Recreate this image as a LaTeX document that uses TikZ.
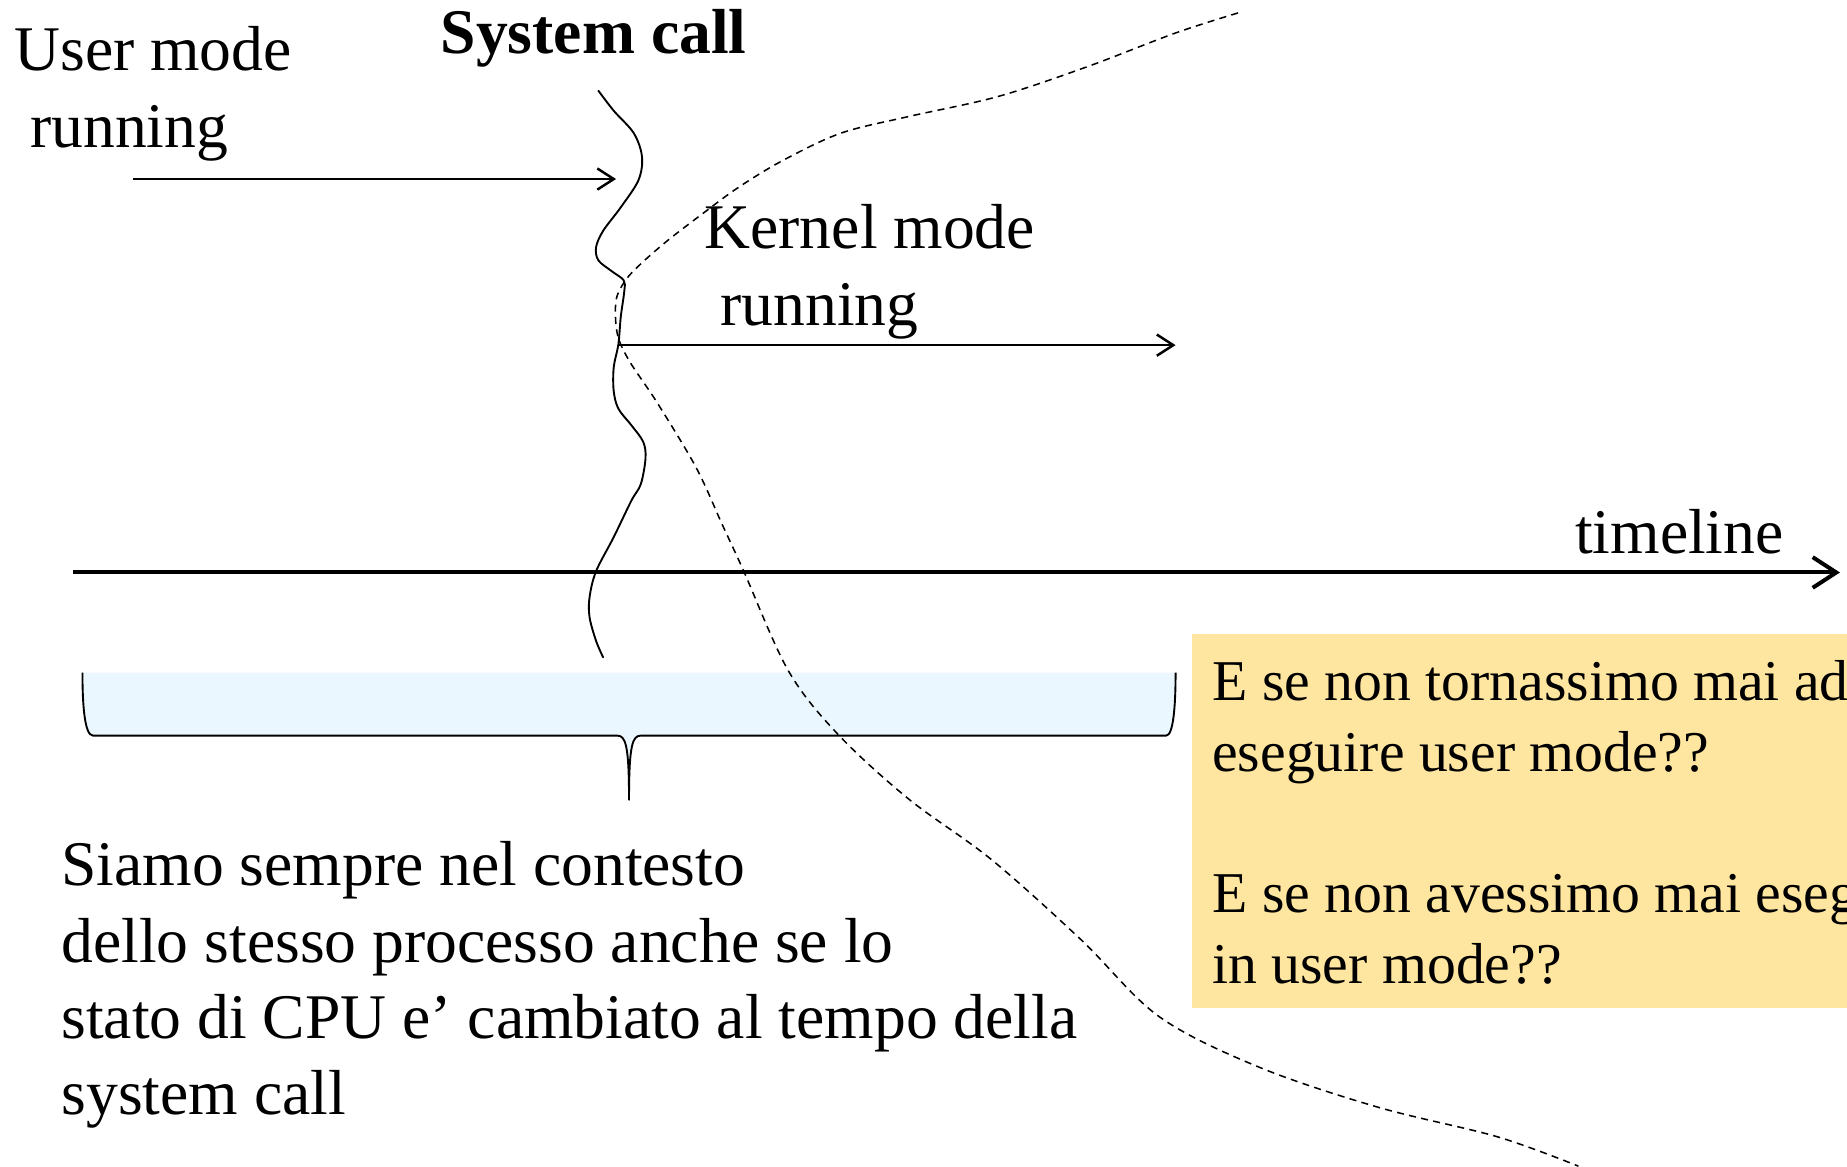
\documentclass[tikz,border=0pt]{standalone}
\usepackage{fontspec}
\setmainfont{Liberation Serif}
\usetikzlibrary{arrows.meta}
\definecolor{bracefill}{RGB}{234,247,254}
\definecolor{notefill}{RGB}{255,230,160}
\begin{document}
\begin{tikzpicture}[x=1pt,y=-1pt,
  big/.style={inner sep=0pt, anchor=base west, font=\fontsize{54}{65}\selectfont},
  small/.style={inner sep=0pt, anchor=base west, font=\fontsize{49}{59}\selectfont},
  thinarrow/.style={line width=2.1pt, -{Straight Barb[length=14pt,width=18pt]}},
  timearrow/.style={line width=3.4pt, -{Straight Barb[length=20pt,width=26pt]}},
  wave/.style={line width=1.6pt, line cap=round, line join=round},
  dashline/.style={line width=1.3pt, dash pattern=on 6pt off 4.5pt},
  bracestroke/.style={line width=1.6pt, line join=round}]
\clip (0,0) rectangle (1568,990);
\useasboundingbox (0,0) rectangle (1568,990);

% note box
\fill[notefill] (1012,538) rectangle (1600,856);

% brace with fill
\fill[bracefill] (70,571) .. controls (70,600) and (72,624.5) .. (79,624.5) -- (524,624.5)
  .. controls (531,624.5) and (534,632) .. (534,679)
  .. controls (534,632) and (537,624.5) .. (544,624.5) -- (990,624.5)
  .. controls (996,624.5) and (998,600) .. (998,571) -- cycle;
\draw[bracestroke] (70,571) .. controls (70,600) and (72,624.5) .. (79,624.5) -- (524,624.5)
  .. controls (531,624.5) and (534,632) .. (534,679)
  .. controls (534,632) and (537,624.5) .. (544,624.5) -- (990,624.5)
  .. controls (996,624.5) and (998,600) .. (998,571);

% texts
\node[big] (um1) at (12,60) {User mode};
\node[big] (um2) at (25.5,125) {running};
\node[big,font=\fontsize{54}{65}\selectfont\bfseries] (sc) at (374,45) {System call};
\node[big] (km1) at (598,211) {Kernel mode};
\node[big] (km2) at (611.5,276) {running};
\node[big] (tl) at (1337,470) {timeline};
\node[big] (s1) at (52,752) {Siamo sempre nel contesto};
\node[big] (s2) at (52,817) {dello stesso processo anche se lo};
\node[big] (s3) at (52,882) {stato di CPU e’ cambiato al tempo della};
\node[big] (s4) at (52,946) {system call};
\node[small] (q1) at (1029,595) {E se non tornassimo mai ad};
\node[small] (q2) at (1029,655) {eseguire user mode??};
\node[small] (q3) at (1029,775) {E se non avessimo mai eseguito};
\node[small] (q4) at (1029,835) {in user mode??};

% arrows
\coordinate (ua) at (113,152);
\coordinate (ub) at (523,152);
\coordinate (ka) at (525,293);
\coordinate (kb) at (998,293);
\coordinate (ta) at (62,486);
\coordinate (tb) at (1562,486);
\draw[thinarrow] (ua) -- (ub);
\draw[thinarrow] (ka) -- (kb);
\draw[timearrow] (ta) -- (tb);

% system call wavy line
\draw[wave] plot[smooth, tension=0.55] coordinates {
 (508,77) (521,94) (538,113) (545,133) (542,153) (527,176) (512,196) (506,210)
 (508,221) (519,230) (529.5,238) (530,247) (527,269) (525,292) (521,312) (521,332)
 (525,347) (536,361) (546,375) (548,389) (544,411) (536,425) (521,456) (506,485)
 (500.5,507) (500.5,524) (506,544) (512,558)};

% dashed boundary curve
\draw[dashline] plot[smooth, tension=0.55] coordinates {
 (1051,11) (998,28) (922,57) (847,82) (771,99) (714,113) (665,136) (627,159)
 (597,181) (567,204) (544,224) (531,238) (523,255) (524,283) (534,306) (558,342)
 (591,397) (613,445) (631,484) (669,569) (711,623) (771,678) (842,730) (918,798)
 (984,863) (1069,906) (1170,940) (1271,965) (1340,990)};
\end{tikzpicture}
\end{document}
